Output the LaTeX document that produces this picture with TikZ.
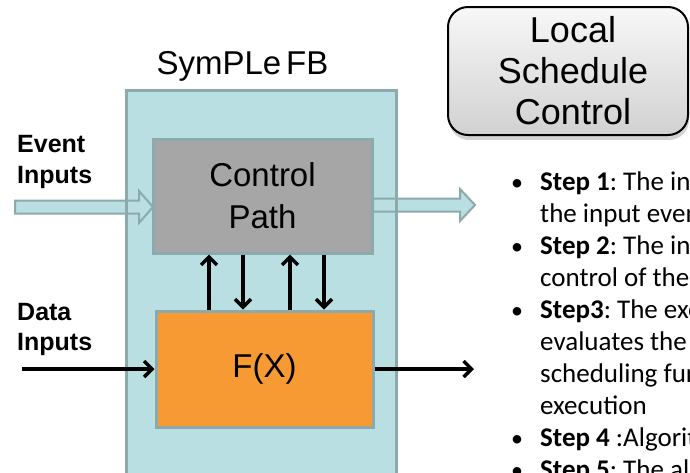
\documentclass[tikz,border=0pt]{standalone}
\usepackage{fontspec}
\setmainfont{Liberation Sans}
\newfontfamily\calfont{Carlito}
\usetikzlibrary{arrows.meta,calc,shadows}
\frenchspacing

\definecolor{fbfill}{HTML}{B9DFE3}
\definecolor{fbline}{HTML}{8CA9AC}
\definecolor{cpfill}{HTML}{A6A6A6}
\definecolor{fxfill}{HTML}{F89A34}

\tikzset{
  blockbox/.style={draw=fbline, line width=3pt, inner sep=0pt, align=center,
    font=\fontsize{33}{42}\selectfont},
  sig/.style={line width=3.5pt, -{Straight Barb[length=8pt,width=16pt]}},
  hollow/.style={draw=fbline, fill=fbfill, line width=2pt, line join=miter},
  sidelbl/.style={anchor=base west, inner sep=0pt, font=\fontsize{25}{30}\selectfont\bfseries},
  steptxt/.style={anchor=base west, inner sep=0pt, font=\calfont\fontsize{27}{32}\selectfont},
  stepdot/.style={anchor=base, inner sep=0pt, font=\calfont\fontsize{24}{30}\selectfont},
}

\begin{document}
\begin{tikzpicture}[x=1pt,y=-1pt]
\useasboundingbox (0,0) rectangle (690,472);
\clip (0,0) rectangle (690,472);

% function block frame (fill first, border redrawn over the event arrows)
\node[fill=fbfill, inner sep=0pt, minimum width=269pt, minimum height=410pt] (fb) at (261.5,296) {};
\node[anchor=base, inner sep=0pt, font=\fontsize{33}{40}\selectfont] (fbtitle) at (242.5,74) {SymPLe\hspace{5pt}FB};

% event flow
\coordinate (evin) at (15,207);
\coordinate (evout) at (475,205);
\coordinate (cpin) at (153,207);
\coordinate (cpout) at (373,205);
\draw[hollow] ($(evin)+(0,-6.5)$) -- ($(cpin)+(-14,-6.5)$) -- ($(cpin)+(-14,-16)$) -- (cpin)
  -- ($(cpin)+(-14,16)$) -- ($(cpin)+(-14,6.5)$) -- ($(evin)+(0,6.5)$) -- cycle;
\draw[hollow] ($(cpout)+(0,-6.5)$) -- ($(evout)+(-15,-6.5)$) -- ($(evout)+(-15,-16)$) -- (evout)
  -- ($(evout)+(-15,16)$) -- ($(evout)+(-15,6.5)$) -- ($(cpout)+(0,6.5)$) -- cycle;

\draw[draw=fbline, line width=3pt] (fb.south west) rectangle (fb.north east);

% inner blocks
\node[blockbox, fill=cpfill, minimum width=219pt, minimum height=114pt] (cp) at (262.5,196) {Control\\Path};
\node[blockbox, fill=fxfill, minimum width=217pt, minimum height=116pt] (fx) at (264.5,369) {F(X)};

% control / data exchange
\draw[sig] (209,0 |- fx.north) -- (209,0 |- cp.south);
\draw[sig] (243,0 |- cp.south) -- (243,0 |- fx.north);
\draw[sig] (290,0 |- fx.north) -- (290,0 |- cp.south);
\draw[sig] (324,3 |- cp.south) -- (324,2 |- fx.north);

% data flow
\coordinate (din) at (22,369);
\coordinate (dout) at (474,369);
\draw[sig] (din) -- (fx.west);
\draw[sig] (fx.east) -- (dout);

% side labels
\node[sidelbl] (ev1) at (17,152) {Event};
\node[sidelbl] (ev2) at (17,183) {Inputs};
\node[sidelbl] (da1) at (17,320) {Data};
\node[sidelbl] (da2) at (17,350) {Inputs};

% schedule control box
\node[draw=black, line width=2pt, rounded corners=20pt, inner sep=0pt,
  minimum width=240pt, minimum height=128pt,
  top color=white!97!black, bottom color=white!82!black,
  drop shadow={shadow xshift=1pt, shadow yshift=-5pt, opacity=0.35},
  align=center, font=\fontsize{36}{41}\selectfont] (lsc) at (568,71)
  {\hspace*{10pt}Local\\\hspace*{10pt}Schedule\\\hspace*{10pt}Control};

% step list
\foreach \k/\isdot/\txt in {
  0/1/{\textbf{Step 1}: The input event},
  1/0/{the input event is},
  2/1/{\textbf{Step 2}: The input},
  3/0/{control of the},
  4/1/{\textbf{Step3}: The execution},
  5/0/{evaluates the},
  6/0/{scheduling function},
  7/0/{execution},
  8/1/{\textbf{Step 4} :Algorithm},
  9/1/{\textbf{Step 5}: The algorithm}} {
  \pgfmathsetmacro{\yb}{190+32.1*\k}
  \node[steptxt] (st\k) at (540,\yb) {\txt};
  \ifnum\isdot=1 \node[stepdot] (sd\k) at (517,\yb) {•};\fi
}
\end{tikzpicture}
\end{document}
